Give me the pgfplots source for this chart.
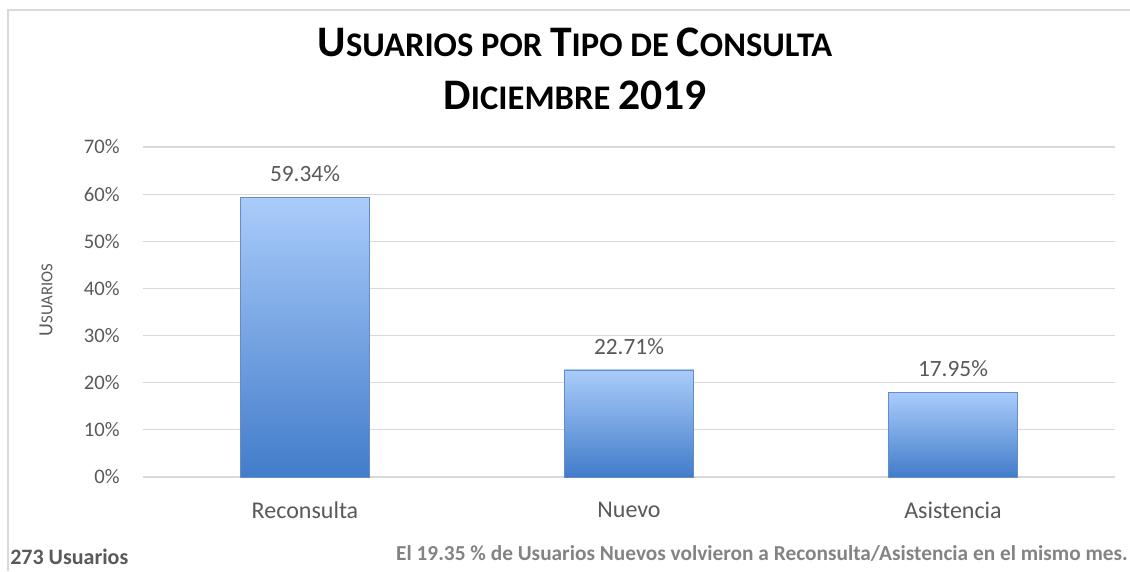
\documentclass[border=0pt]{standalone}
\usepackage{pgfplots}
\pgfplotsset{compat=1.18}
\usepackage{fontspec}
\setmainfont{Carlito}

\definecolor{gridgray}{RGB}{217,217,217}
\definecolor{txtgray}{RGB}{89,89,89}
\definecolor{bartop}{RGB}{170,204,250}
\definecolor{barbot}{RGB}{66,124,202}
\definecolor{baredge}{RGB}{100,140,200}

% fake small caps: big first letter, rest at a smaller size
\newcommand{\titlesc}[2]{{\fontsize{32.7}{38}\selectfont #1}{\fontsize{25.9}{38}\selectfont #2}}

\pgfplotsset{barstyle/.style={draw=baredge, line width=0.6pt, top color=bartop, bottom color=barbot}}

\begin{document}
% 1 unit = 1 pixel of the reference; origin at the plot's lower left corner
\begin{tikzpicture}[x=0.75pt,y=0.75pt]
  \useasboundingbox (-143,-94) rectangle (987,477);
  \begin{axis}[
    scale only axis,
    width=729pt, height=247.5pt,
    at={(0,0)}, anchor=south west,
    xmin=-0.5, xmax=2.5,
    ymin=0, ymax=70,
    ytick={0,10,...,70},
    yticklabel={\pgfmathprintnumber{\tick}\%},
    yticklabel style={font=\fontsize{15.5}{17}\selectfont, text=txtgray, xshift=-14pt},
    xtick={0,1,2},
    xticklabels={Reconsulta,Nuevo,Asistencia},
    xticklabel style={font=\fontsize{18}{20}\selectfont, text=txtgray, yshift=-15pt},
    major tick length=0pt,
    axis line style={draw=none},
    ymajorgrids,
    grid style={gridgray, line width=0.9pt},
    ybar,
    bar width=0.4,
    bar shift=0pt,
    nodes near coords={\pgfmathprintnumber[fixed,fixed zerofill,precision=2]{\pgfplotspointmeta}\%},
    nodes near coords style={font=\fontsize{17.5}{20}\selectfont, text=txtgray, anchor=south, yshift=8pt},
    /pgf/number format/assume math mode=true,
  ]
    % one plot per bar so that each bar gets its own gradient
    \addplot[barstyle] coordinates {(0,59.34)};
    \addplot[barstyle] coordinates {(1,22.71)};
    \addplot[barstyle] coordinates {(2,17.95)};
  \end{axis}
  % chart frame (top and left edges visible)
  \draw[gridgray, line width=1.5pt] (-135,-94) -- (-135,467) -- (987,467);
  % title
  \node[font=\bfseries, anchor=base] at (432,420)
    {\titlesc{U}{SUARIOS POR }\titlesc{T}{IPO DE }\titlesc{C}{ONSULTA}};
  \node[font=\bfseries, anchor=base] at (432,367)
    {\titlesc{D}{ICIEMBRE }{\fontsize{32.7}{38}\selectfont 2019}};
  % y label
  \node[rotate=90, text=txtgray] at (-97,177)
    {{\fontsize{15}{17}\selectfont U}{\fontsize{12.5}{17}\selectfont SUARIOS}};
  % footnotes
  \node[anchor=west, text=txtgray, font=\bfseries\fontsize{16.5}{18}\selectfont, inner sep=0pt] at (-133,-80) {273 Usuarios};
  \node[anchor=east, text=txtgray!75, font=\bfseries\fontsize{16}{18}\selectfont, inner xsep=0pt] at (985,-76)
    {El 19.35 \% de Usuarios Nuevos volvieron a Reconsulta/Asistencia en el mismo mes.};
\end{tikzpicture}
\end{document}
